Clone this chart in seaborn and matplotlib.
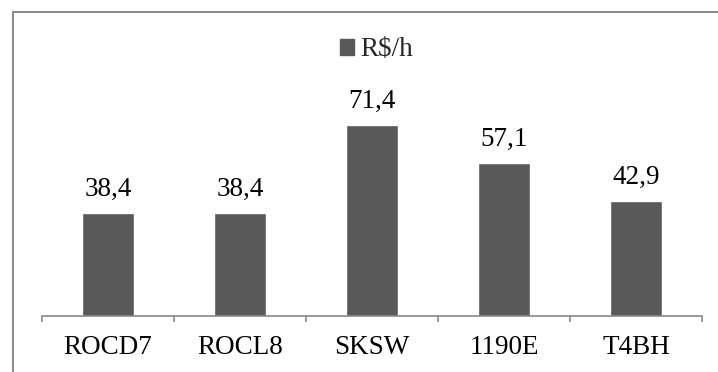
import matplotlib
matplotlib.use("Agg")
import matplotlib.pyplot as plt
import seaborn as sns
import pandas as pd
from matplotlib.patches import Rectangle
from matplotlib.lines import Line2D

categories = ["ROCD7", "ROCL8", "SKSW", "1190E", "T4BH"]
values = [38.4, 38.4, 71.4, 57.1, 42.9]
series_name = "R$/h"

df = pd.DataFrame({"modelo": categories, "valor": values})

sns.set_theme(style="white")
plt.rcParams["font.family"] = ["Liberation Serif", "DejaVu Serif"]

W, H = 718, 372
fig = plt.figure(figsize=(W / 100, H / 100), dpi=100)

# axes placed in pixel terms: x-axis line at y=316, spanning x=42..702
top_px = 40
ax = fig.add_axes([42 / W, 1 - 316 / H, (702 - 42) / W, (316 - top_px) / H])

bar_color = "#595959"
axis_color = "#868686"
fs = 19.5

sns.barplot(data=df, x="modelo", y="valor", color=bar_color, width=0.39,
            saturation=1, ax=ax)
ax.set_xlim(-0.5, len(categories) - 0.5)
ax.set_ylim(0, (316 - top_px) / 2.675)

for i, v in enumerate(values):
    ax.annotate(f"{v:.1f}".replace(".", ","), (i, v), xytext=(0, 12.5),
                textcoords="offset points", ha="center", va="baseline",
                fontsize=fs, color="#000000")

for s in ["top", "right", "left"]:
    ax.spines[s].set_visible(False)
ax.spines["bottom"].set_color(axis_color)
ax.spines["bottom"].set_linewidth(1.2)
ax.set_yticks([])
ax.set_xlabel("")
ax.set_ylabel("")
ax.set_xticks(range(len(categories)))
ax.set_xticklabels(categories, fontsize=fs, color="#000000")
ax.tick_params(axis="x", length=0, pad=13.5)

# category separators below the axis line
for b in [i - 0.5 for i in range(len(categories) + 1)]:
    ax.plot([b, b], [0, -6 / 2.675], color=axis_color, lw=1.2,
            clip_on=False, solid_capstyle="butt")

# chart area frame (top and left edges)
fig.add_artist(Line2D([12.5 / W, 1.01], [1 - 11.5 / H, 1 - 11.5 / H],
                      color="#8c8c8c", lw=1.5, transform=fig.transFigure))
fig.add_artist(Line2D([12.5 / W, 12.5 / W], [-0.01, 1 - 11.5 / H],
                      color="#8c8c8c", lw=1.5, transform=fig.transFigure))

# legend
handle = Rectangle((0, 0), 1, 1, color=bar_color)
fig.legend([handle], [series_name], loc="center", bbox_to_anchor=(377 / W, 1 - 50 / H),
           frameon=False, fontsize=fs, handlelength=0.5, handleheight=0.5,
           handletextpad=0.25)

fig.savefig("out.png", dpi=100, facecolor="white")
